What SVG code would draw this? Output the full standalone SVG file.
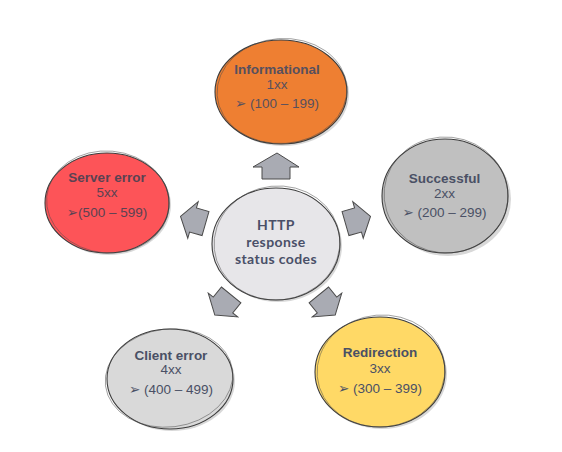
<svg xmlns="http://www.w3.org/2000/svg" width="562" height="452" viewBox="0 0 562 452">
  <style>
    .shadow { fill: #8e8e8e; opacity: 0.35; }
    .blob { stroke: #3c3c3c; stroke-width: 1.1; }
    .sketch { fill: none; stroke: #4a4a4a; stroke-width: 0.7; opacity: 0.7; }
    .title { font-family: "Liberation Sans", Arial, sans-serif; font-size: 13.5px; font-weight: bold; fill: #4a5065; text-anchor: middle; }
    .sub { font-family: "Liberation Sans", Arial, sans-serif; font-size: 13.5px; fill: #4a5065; text-anchor: middle; }
    .range { font-family: "Liberation Sans", "DejaVu Sans", Arial, sans-serif; font-size: 13.5px; fill: #4a5065; text-anchor: middle; }
    .center { font-family: Lato, "Open Sans", sans-serif; font-size: 14px; font-weight: bold; letter-spacing: 0.4px; fill: #4a5068; text-anchor: middle; }
    .arrow { fill: #a9abb3; stroke: #4a4a4a; stroke-width: 1; stroke-linejoin: miter; }
    .red text { fill: #5a4252; }
    .orange text { fill: #57505e; }
  </style>
  <defs>
    <polygon id="arr" points="13,0 0,-19 0,-12.5 -13,-12.5 -13,12.5 0,12.5 0,19"/>
  </defs>
  <rect width="562" height="452" fill="#ffffff"/>

  <g id="informational" class="orange">
    <ellipse class="shadow" cx="283" cy="94" rx="66" ry="52"/>
    <ellipse class="blob" cx="281" cy="92" rx="66" ry="52" fill="#ee7f32"/>
    <ellipse class="sketch" cx="282" cy="91" rx="65" ry="52.5" transform="rotate(-4 282 91)"/>
    <text class="title" x="277" y="74">Informational</text>
    <text class="sub" x="277" y="89">1xx</text>
    <text class="range" x="277" y="108">➢ (100 – 199)</text>
  </g>

  <g id="successful">
    <ellipse class="shadow" cx="448" cy="199" rx="63" ry="57"/>
    <ellipse class="blob" cx="445" cy="196" rx="63" ry="57" fill="#c0c0c0"/>
    <ellipse class="sketch" cx="446" cy="195" rx="62" ry="58" transform="rotate(6 446 195)"/>
    <text class="title" x="444.5" y="183">Successful</text>
    <text class="sub" x="444.5" y="198">2xx</text>
    <text class="range" x="444.5" y="217">➢ (200 – 299)</text>
  </g>

  <g id="redirection">
    <ellipse class="shadow" cx="382" cy="374" rx="65" ry="55"/>
    <ellipse class="blob" cx="380" cy="372" rx="65" ry="55" fill="#ffd966"/>
    <ellipse class="sketch" cx="381" cy="371" rx="64" ry="56" transform="rotate(-5 381 371)"/>
    <text class="title" x="380" y="357">Redirection</text>
    <text class="sub" x="380" y="373">3xx</text>
    <text class="range" x="380" y="393">➢ (300 – 399)</text>
  </g>

  <g id="client-error">
    <ellipse class="shadow" cx="172" cy="381" rx="63" ry="50"/>
    <ellipse class="blob" cx="170" cy="379" rx="63" ry="50" fill="#d9d9d9"/>
    <ellipse class="sketch" cx="169" cy="378" rx="64" ry="49" transform="rotate(-7 169 378)"/>
    <text class="title" x="171" y="360">Client error</text>
    <text class="sub" x="171" y="374">4xx</text>
    <text class="range" x="171" y="394">➢ (400 – 499)</text>
  </g>

  <g id="server-error" class="red">
    <ellipse class="shadow" cx="109" cy="205" rx="62" ry="50"/>
    <ellipse class="blob" cx="107" cy="203" rx="62" ry="50" fill="#fd5458"/>
    <ellipse class="sketch" cx="108" cy="202" rx="61.5" ry="51" transform="rotate(5 108 202)"/>
    <text class="title" x="107" y="182">Server error</text>
    <text class="sub" x="107" y="197">5xx</text>
    <text class="range" x="107" y="217">➢(500 – 599)</text>
  </g>

  <g id="http-status-codes">
    <ellipse class="shadow" cx="278" cy="246" rx="64" ry="56"/>
    <ellipse class="blob" cx="276" cy="244" rx="64" ry="56" fill="#e7e6e9"/>
    <ellipse class="sketch" cx="277" cy="243" rx="63" ry="57" transform="rotate(-6 277 243)"/>
    <text class="center" x="276" y="230">HTTP</text>
    <text class="center" x="276" y="247">response</text>
    <text class="center" x="276" y="264">status codes</text>
  </g>

  <g id="connectors">
    <polygon class="arrow" points="277,153 299,167 290,167 290,179 262,179 262,167 253,167"/>
    <use href="#arr" class="arrow" transform="translate(358 220) rotate(-16)"/>
    <use href="#arr" class="arrow" transform="translate(193 220) rotate(196)"/>
    <use href="#arr" class="arrow" transform="translate(223 305) rotate(129)"/>
    <use href="#arr" class="arrow" transform="translate(327 305) rotate(51)"/>
  </g>
</svg>
